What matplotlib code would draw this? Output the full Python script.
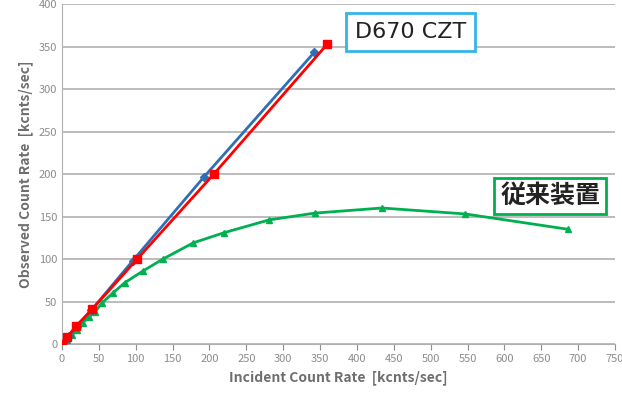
import matplotlib.pyplot as plt

# values (kcnts/sec)
czt_blue_x = [0, 5, 10, 20, 40, 96, 192, 342]
czt_blue_y = [0, 5, 10, 20, 40, 98, 196, 343]
czt_red_x = [0, 7, 19, 41, 102, 206, 360]
czt_red_y = [0, 8, 21, 41, 100, 200, 353]
old_x = [0, 7, 14, 20, 28, 37, 45, 54, 69, 85, 110, 137, 178, 220, 281, 343, 434, 547, 686]
old_y = [0, 5, 11, 16, 25, 32, 38, 48, 60, 72, 86, 100, 119, 131, 146, 154, 160, 153, 135]

x_ticks = list(range(0, 751, 50))
y_ticks = list(range(0, 401, 50))

plt.rcParams['font.family'] = ['Noto Sans CJK JP', 'DejaVu Sans']

fig = plt.figure(figsize=(6.22, 4.05), dpi=100)
ax = fig.add_axes([62 / 622, 1 - 344 / 405, 553 / 622, 340 / 405])

ax.plot(old_x, old_y, color='#00b050', linewidth=2, marker='^', markersize=5, zorder=3)
ax.plot(czt_blue_x, czt_blue_y, color='#2e6fb8', linewidth=2, marker='D', markersize=4, zorder=4)
ax.plot(czt_red_x, czt_red_y, color='#ff0000', linewidth=2, marker='s', markersize=6, zorder=5)

ax.set_xlim(0, 750)
ax.set_ylim(0, 400)
ax.set_xticks(x_ticks)
ax.set_yticks(y_ticks)
ax.tick_params(axis='both', labelsize=8, colors='#8c8c8c', length=4)
ax.tick_params(axis='y', length=0)
ax.grid(axis='y', color='#b0b0b0', linewidth=1.2)
ax.set_axisbelow(True)
for side in ['top', 'right']:
    ax.spines[side].set_visible(False)
for side in ['left', 'bottom']:
    ax.spines[side].set_color('#b0b0b0')

ax.set_xlabel('Incident Count Rate  [kcnts/sec]', fontsize=10, fontweight='bold', color='#6e6e6e')
ax.set_ylabel('Observed Count Rate  [kcnts/sec]', fontsize=10, fontweight='bold', color='#6e6e6e')

ax.text(473, 367, 'D670 CZT', fontsize=16, family='DejaVu Sans', ha='center', va='center',
        color='#222222',
        bbox=dict(boxstyle='square,pad=0.4', facecolor='white', edgecolor='#33b5e5', linewidth=2))
ax.text(662, 174, '従来装置', fontsize=18, fontweight='bold', ha='center', va='center', color='#222222',
        bbox=dict(boxstyle='square,pad=0.25', facecolor='white', edgecolor='#00b050', linewidth=2))

fig.savefig('out.png', dpi=100)
